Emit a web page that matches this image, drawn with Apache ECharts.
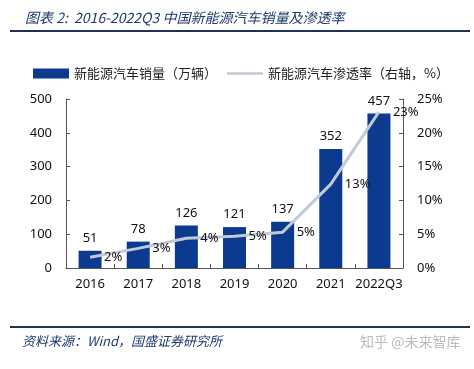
<!DOCTYPE html>
<html><head><meta charset="utf-8">
<script src="https://cdn.jsdelivr.net/npm/echarts@6/dist/echarts.min.js"></script>
<style>html,body{margin:0;padding:0;background:#fff}#c{width:474px;height:369px}</style>
</head><body><div id="c"></div>
<script>
const categories = ['2016','2017','2018','2019','2020','2021','2022Q3'];
const sales = [51, 78, 126, 121, 137, 352, 457];
const penetration = [1.6, 2.9, 4.4, 4.7, 5.3, 12.4, 23.1];
const penetrationLabels = ['2%','3%','4%','5%','5%','13%','23%'];
const leftTicks = [0, 100, 200, 300, 400, 500];
const rightTicks = [0, 5, 10, 15, 20, 25];

const navy = '#0b3a8f';
const lineColor = '#c3cad6';
const textColor = '#111';
const font = '"Noto Sans CJK SC", "Noto Sans", sans-serif';

const chart = echarts.init(document.getElementById('c'), null, {renderer:'canvas'});
chart.setOption({
  animation: false,
  backgroundColor: '#fff',
  title: {
    text: '图表 2:  2016-2022Q3 中国新能源汽车销量及渗透率',
    left: 20, top: 6,
    textStyle: {fontSize: 14, fontStyle: 'italic', fontWeight: 'normal', color: '#1f3a6e', fontFamily: font}
  },
  graphic: [
    {type:'line', shape:{x1:10,y1:31,x2:470,y2:31}, style:{stroke:'#1f3050', lineWidth:2}},
    {type:'line', shape:{x1:10,y1:327,x2:470,y2:327}, style:{stroke:'#1f3050', lineWidth:2}},
    {type:'text', left:22, top:335, style:{text:'资料来源：Wind，国盛证券研究所', fill:'#1f3a6e', font:'italic 13px ' + font}},
    {type:'text', left:360, top:335, style:{text:'知乎 @未来智库', fill:'#bbbbbb', font:'14px ' + font}}
  ],
  legend: {
    top: 62, left: 28, itemGap: 10, itemWidth: 36, itemHeight: 10,
    textStyle: {fontSize: 13, color: '#222', fontFamily: font},
    data: [
      {name:'新能源汽车销量（万辆）', icon:'rect'},
      {name:'新能源汽车渗透率（右轴，%）', icon:'path://M0,0 L0.01,0 Z M0,3.7 L36,3.7 L36,6.3 L0,6.3 Z M35.99,10 L36,10 Z',
       itemStyle:{color: lineColor}}
    ]
  },
  grid: {left: 66, right: 71, top: 99, bottom: 101},
  xAxis: {
    type: 'category', data: categories,
    axisLine: {lineStyle: {color: '#555'}},
    axisTick: {show: true, inside: true, length: 4, lineStyle:{color:'#555'}},
    axisLabel: {color: textColor, fontSize: 13, margin: 10, interval: 0, fontFamily: 'Noto Sans, sans-serif'}
  },
  yAxis: [
    {
      type: 'value', min: 0, max: 500, interval: 100,
      axisLine: {show: true, lineStyle: {color: '#555'}},
      axisTick: {show: true, inside: true, length: 4, lineStyle:{color:'#555'}},
      splitLine: {show: false},
      axisLabel: {color: textColor, fontSize: 13, margin: 14, fontFamily: 'Noto Sans, sans-serif',
        formatter: v => leftTicks.includes(v) ? String(v) : ''}
    },
    {
      type: 'value', min: 0, max: 25, interval: 5,
      axisLine: {show: true, lineStyle: {color: '#555'}},
      axisTick: {show: true, inside: true, length: 4, lineStyle:{color:'#555'}},
      splitLine: {show: false},
      axisLabel: {color: textColor, fontSize: 13, margin: 14, fontFamily: 'Noto Sans, sans-serif',
        formatter: v => rightTicks.includes(v) ? v + '%' : ''}
    }
  ],
  series: [
    {
      name: '新能源汽车销量（万辆）', type: 'bar', data: sales, barWidth: 23,
      itemStyle: {color: navy},
      label: {show: true, position: 'top', distance: 6, color: textColor, fontSize: 13, fontFamily: 'Noto Sans, sans-serif'}
    },
    {
      name: '新能源汽车渗透率（右轴，%）', type: 'line', yAxisIndex: 1, data: penetration,
      symbol: 'circle', symbolSize: 0, showSymbol: true,
      lineStyle: {color: lineColor, width: 3}, itemStyle: {color: lineColor},
      label: {show: true, position: 'right', distance: 14, color: textColor, fontSize: 13,
        fontFamily: 'Noto Sans, sans-serif',
        formatter: p => penetrationLabels[p.dataIndex]},
      z: 3
    }
  ]
});
</script></body></html>
